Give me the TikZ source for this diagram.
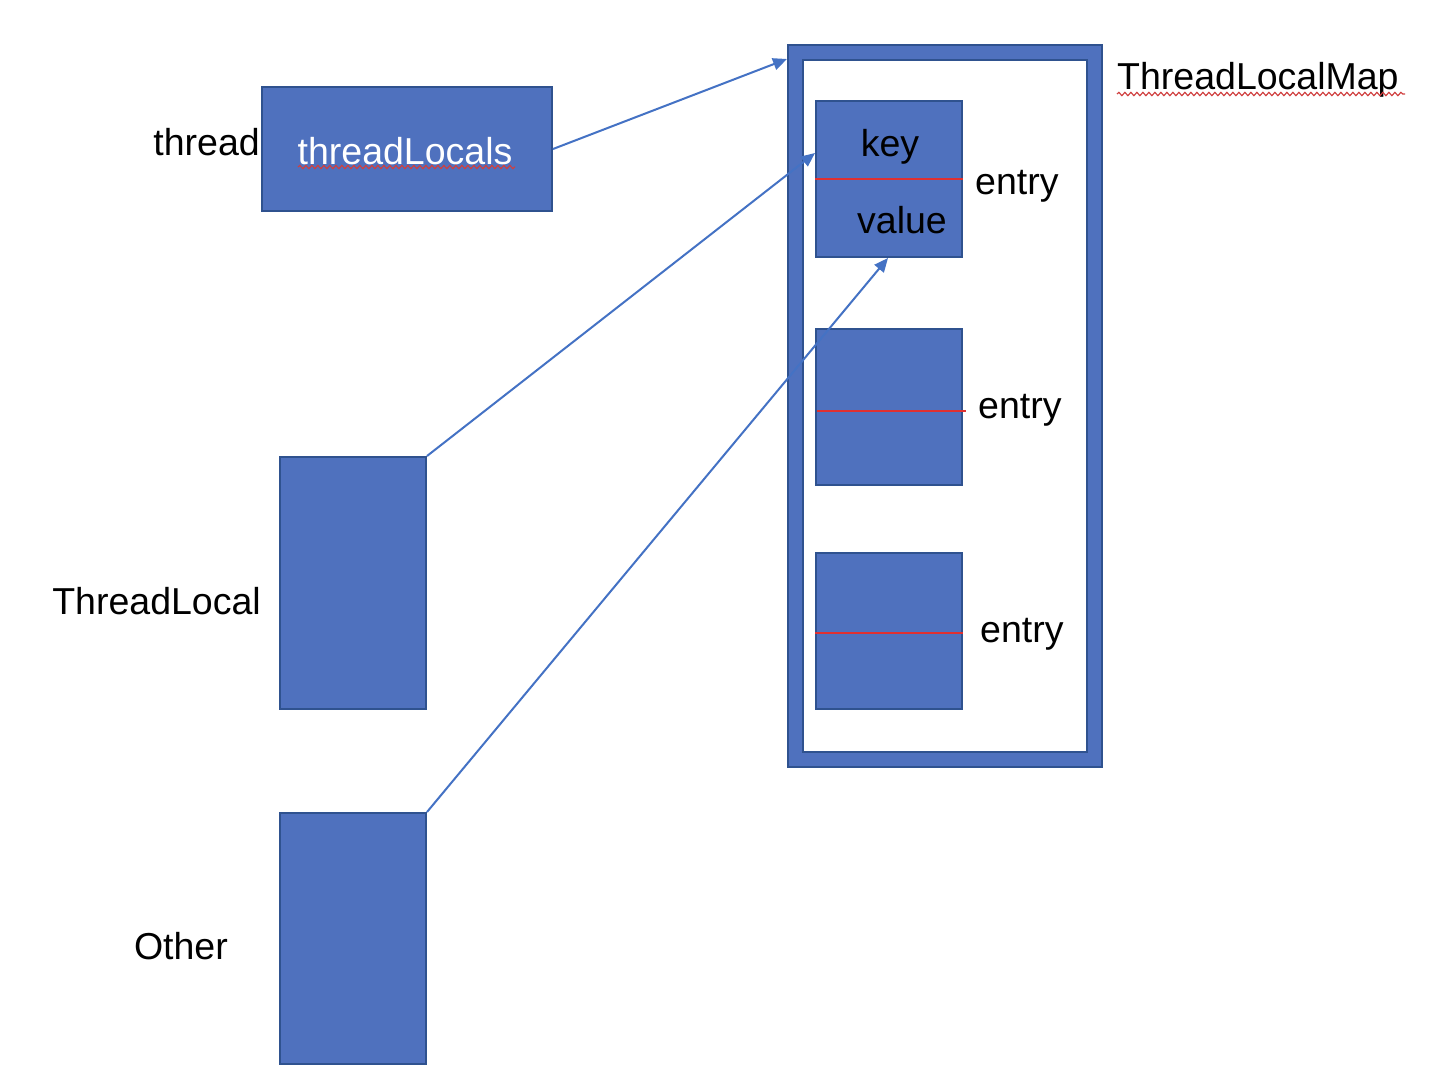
\documentclass[tikz,border=0pt]{standalone}
\usepackage{fontspec}
\setmainfont{Liberation Sans}
\usetikzlibrary{arrows.meta,decorations.pathmorphing}
\definecolor{boxfill}{HTML}{4F71BE}
\definecolor{boxline}{HTML}{2F528F}
\definecolor{arrowc}{HTML}{4472C4}
\definecolor{splitred}{HTML}{E03030}
\definecolor{wavy}{HTML}{D04040}
\tikzset{
  blk/.style={rectangle, fill=boxfill, draw=boxline, line width=2pt, inner sep=0pt},
  txt/.style={font=\fontsize{37.5}{44}\selectfont, inner sep=0pt, text=black},
  wtxt/.style={font=\fontsize{37.5}{44}\selectfont, inner sep=0pt, text=white},
  link/.style={draw=arrowc, line width=2pt, -{Triangle[length=14pt,width=12pt]}},
  split/.style={draw=splitred, line width=1.6pt},
  spell/.style={draw=wavy, line width=1.2pt, decorate, decoration={snake, amplitude=1.6pt, segment length=6pt}}
}
\begin{document}
\begin{tikzpicture}[x=1pt,y=-1pt]
\useasboundingbox (0,0) rectangle (1456,1080);
% map
\node[blk, minimum width=314pt, minimum height=722pt] (mapo) at (945,406) {};
\node[rectangle, fill=white, draw=boxline, line width=2pt, minimum width=284pt, minimum height=692pt] (mapi) at (945,406) {};
% entries
\node[blk, minimum width=146pt, minimum height=156pt] (e1) at (889,179) {};
\node[blk, minimum width=146pt, minimum height=156pt] (e2) at (889,407) {};
\node[blk, minimum width=146pt, minimum height=156pt] (e3) at (889,631) {};
\draw[split] (e1.west) -- (e1.east);
\draw[split] ([xshift=2pt,yshift=-4pt]e2.west) -- ([xshift=3pt,yshift=-4pt]e2.east);
\draw[split] ([yshift=-2pt]e3.west) -- ([yshift=-2pt]e3.east);
\node[txt] (key) at (890,147) {key};
\node[txt] (val) at (902,220) {value};
\node[txt, anchor=west] (en1) at (975,186) {entry};
\node[txt, anchor=west] (en2) at (978,410) {entry};
\node[txt, anchor=west] (en3) at (980,634) {entry};
\node[txt, anchor=west] (tlm) at (1117,80) {ThreadLocalMap};
\draw[spell] (1117,94) -- (1405,94);
% left boxes
\node[blk, minimum width=290pt, minimum height=124pt] (tls) at (407,149) {};
\node[wtxt] (tlst) at (405,151) {threadLocals};
\draw[spell] (298,167) -- (515,167);
\node[blk, minimum width=146pt, minimum height=252pt] (tl) at (353,583) {};
\node[blk, minimum width=146pt, minimum height=251pt] (oth) at (353,938.5) {};
\node[txt, anchor=east] (thr) at (260,142) {thread};
\node[txt, anchor=east] (tlt) at (261,601) {ThreadLocal};
\node[txt, anchor=east] (otht) at (228,946) {Other};
% connectors
\draw[link] (tls.east) -- ([yshift=-15pt]mapo.north west);
\draw[link] (tl.north east) -- ([yshift=26pt]e1.west);
\draw[link] (oth.north east) -- ([xshift=-1pt]e1.south);
\end{tikzpicture}
\end{document}
